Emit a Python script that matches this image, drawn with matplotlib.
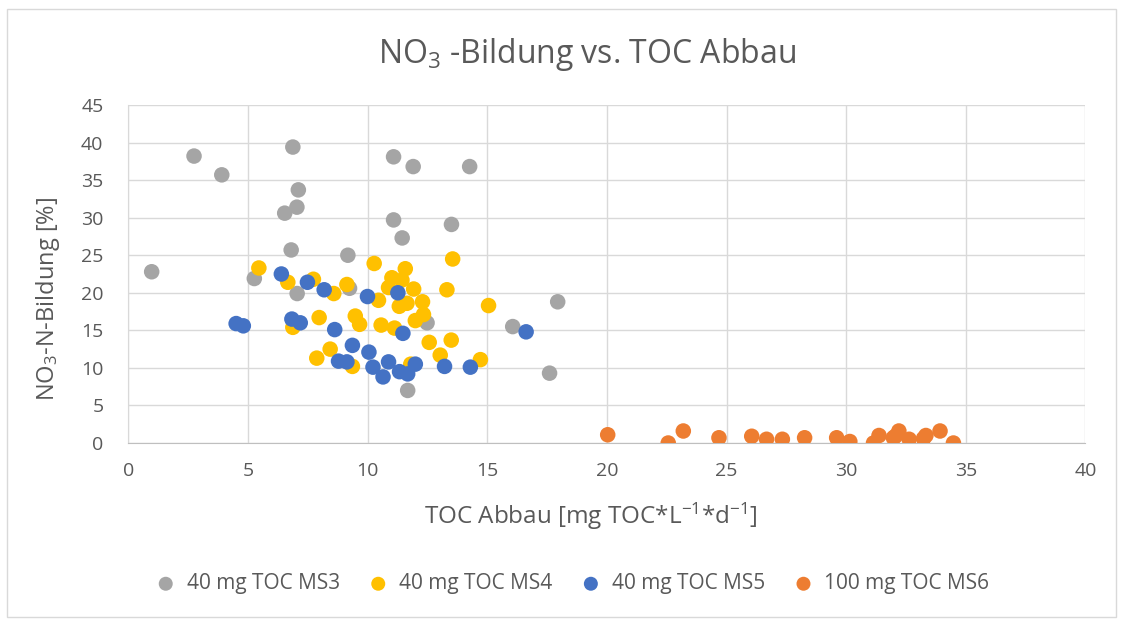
import matplotlib
matplotlib.use("Agg")
import matplotlib.pyplot as plt
from matplotlib.patches import Rectangle

plt.rcParams['font.family'] = ['Open Sans', 'DejaVu Sans']
plt.rcParams['mathtext.default'] = 'regular'

# TOC-Abbau [mg TOC/(L*d)] und NO3-N-Bildung [%] je Versuchsreihe
ms3_x = [0.97, 2.74, 3.9, 6.87, 7.1, 7.04, 6.53, 6.8, 9.17, 5.26, 7.05, 9.24,
         11.08, 11.9, 14.26, 11.08, 13.5, 11.44, 12.48, 11.67, 16.06, 17.6, 17.94]
ms3_y = [22.8, 38.2, 35.7, 39.4, 33.7, 31.4, 30.6, 25.7, 25.0, 21.9, 19.9, 20.6,
         38.1, 36.8, 36.8, 29.7, 29.1, 27.3, 16.0, 7.0, 15.5, 9.3, 18.8]

ms4_x = [5.45, 6.66, 7.73, 8.58, 9.13, 10.27, 13.55, 11.57, 11.01, 11.43, 10.87,
         11.92, 13.31, 10.45, 11.64, 11.32, 12.29, 12.33, 15.05, 7.97, 9.48, 9.66,
         10.56, 11.12, 11.99, 12.57, 13.49, 13.03, 14.71, 7.87, 8.43, 9.36, 11.8,
         6.87]
ms4_y = [23.3, 21.4, 21.8, 19.9, 21.1, 23.9, 24.5, 23.2, 22.0, 21.7, 20.7,
         20.5, 20.4, 19.0, 18.6, 18.2, 18.8, 17.1, 18.3, 16.7, 16.9, 15.8,
         15.7, 15.3, 16.3, 13.4, 13.7, 11.7, 11.1, 11.3, 12.5, 10.2, 10.5,
         15.4]

ms5_x = [4.5, 4.8, 6.39, 7.48, 8.18, 9.99, 11.26, 6.83, 7.18, 8.62, 9.36, 10.05,
         11.47, 8.78, 9.13, 10.22, 10.64, 10.87, 11.33, 11.67, 11.99, 13.21,
         14.29, 16.62]
ms5_y = [15.9, 15.6, 22.5, 21.4, 20.4, 19.5, 20.0, 16.5, 16.0, 15.1, 13.0, 12.1,
         14.6, 10.9, 10.8, 10.1, 8.8, 10.8, 9.5, 9.2, 10.5, 10.2,
         10.1, 14.8]

ms6_x = [20.03, 22.56, 23.19, 24.68, 26.05, 26.67, 27.33, 28.26, 29.6, 30.15,
         31.14, 31.37, 31.97, 32.2, 32.63, 33.23, 33.33, 33.92, 34.48, 32.05]
ms6_y = [1.1, 0.0, 1.6, 0.7, 0.9, 0.5, 0.5, 0.7, 0.7, 0.2,
         0.0, 1.0, 0.7, 1.6, 0.5, 0.6, 1.0, 1.6, 0.0, 0.9]

series = [
    ("40 mg TOC MS3", ms3_x, ms3_y, "#A5A5A5"),
    ("40 mg TOC MS4", ms4_x, ms4_y, "#FFC000"),
    ("40 mg TOC MS5", ms5_x, ms5_y, "#4472C4"),
    ("100 mg TOC MS6", ms6_x, ms6_y, "#ED7D31"),
]

txt = "#595959"
grid = "#D9D9D9"

fig = plt.figure(figsize=(11.23, 6.19), dpi=100)
fig.patches.append(Rectangle((0.006, 0.004), 0.988, 0.982, transform=fig.transFigure,
                             fill=False, edgecolor=grid, linewidth=1))

ax = fig.add_axes([0.1144, 0.2843, 0.8522, 0.5461])
for name, xs, ys, col in series:
    ax.scatter(xs, ys, s=125, color=col, edgecolors='none', label=name, zorder=3)

ax.set_xlim(0, 40)
ax.set_ylim(0, 45)
ax.set_xticks(range(0, 41, 5))
ax.set_yticks(range(0, 46, 5))
ax.grid(True, color=grid, linewidth=1)
ax.set_axisbelow(True)
for side in ['top', 'right']:
    ax.spines[side].set_visible(False)
ax.spines['left'].set_color(grid)
ax.spines['bottom'].set_color("#BFBFBF")
ax.tick_params(length=0, labelsize=14, labelcolor=txt)
ax.tick_params(axis='x', pad=14)
ax.tick_params(axis='y', pad=18)

fig.text(0.5227, 0.898, "NO$_3$ -Bildung vs. TOC Abbau", fontsize=23, color=txt,
         ha='center', va='baseline')
ax.set_xlabel("TOC Abbau [mg TOC*L$^{-1}$*d$^{-1}$]", fontsize=17.5, color=txt)
ax.xaxis.set_label_coords(0.4833, -0.17)
ax.set_ylabel("NO$_3$-N-Bildung [%]", fontsize=17, color=txt)
ax.yaxis.set_label_coords(-0.0695, 0.425)

leg = fig.legend(loc='center', bbox_to_anchor=(0.505, 0.057), ncol=4, frameon=False,
                 fontsize=15, handletextpad=0.0, columnspacing=0.85, markerscale=0.9)
for t in leg.get_texts():
    t.set_color(txt)

fig.savefig("out.png", dpi=100)
